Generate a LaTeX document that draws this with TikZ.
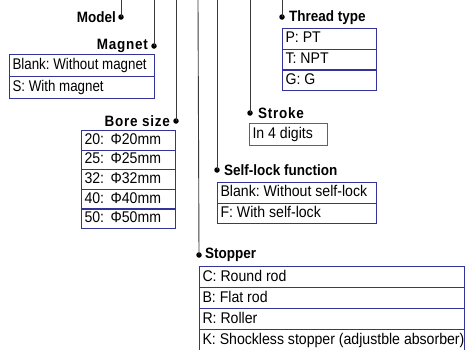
\documentclass[tikz,border=0pt]{standalone}
\usepackage{fontspec}
\setmainfont{Liberation Sans}[FakeStretch=0.91]
\newfontfamily\headfont{Liberation Sans}[FakeStretch=0.9]
\newfontfamily\wideheadfont{Liberation Sans}[FakeStretch=0.9,LetterSpace=5]
\newfontfamily\magfont{Liberation Sans}[FakeStretch=0.86]
\definecolor{boxblue}{HTML}{33339A}
\definecolor{strokeblue}{HTML}{3366C8}
\definecolor{linegray}{HTML}{3A3A3A}
\tikzset{
  x=1pt,y=-1pt,
  vline/.style={draw=linegray,line width=0.9pt},
  dotmark/.style={circle,fill=black,inner sep=0pt,minimum size=5.5pt},
  head/.style={font=\headfont\fontsize{15}{15}\selectfont\bfseries,inner sep=0pt},
  widehead/.style={font=\wideheadfont\fontsize{15}{15}\selectfont\bfseries,inner sep=0pt},
  row/.style={draw=boxblue,line width=1.1pt,anchor=north west,inner sep=0pt,
    font=\fontsize{15.5}{16}\selectfont,text height=11pt,text depth=3pt},
}
\newcommand{\rowbox}[6]{% name, x, y, width, height, text
  \node[row,minimum width=#4pt,minimum height=#5pt] (#1) at (#2,#3) {\makebox[\dimexpr#4pt-6pt\relax][l]{#6}};}
\begin{document}
\frenchspacing
\begin{tikzpicture}
\useasboundingbox (0,0) rectangle (469,349);
% tops of lines
\coordinate (tmodel) at (121,0);
\coordinate (tmag) at (154,0);
\coordinate (tbore) at (176,0);
\coordinate (tstop) at (198,0);
\coordinate (tlock) at (217,0);
\coordinate (tstroke) at (250,0);
\coordinate (tthread) at (282,0);
% dots
\node[dotmark] (dmodel) at (121,17) {};
\node[dotmark] (dmag) at (154,46) {};
\node[dotmark] (dbore) at (176,121) {};
\node[dotmark] (dstop) at (199,255) {};
\node[dotmark] (dlock) at (217,170) {};
\node[dotmark] (dstroke) at (250,113) {};
\node[dotmark] (dthread) at (282,17) {};
\draw[vline] (tmodel) -- (dmodel.center);
\draw[vline] (tmag) -- (dmag.center);
\draw[vline] (tbore) -- (dbore.center);
\draw[vline] (tstop) -- (dstop.center);
\draw[vline] (tlock) -- (dlock.center);
\draw[vline] (tstroke) -- (dstroke.center);
\draw[vline] (tthread) -- (dthread.center);
% headings
\node[head,anchor=east] (hmodel) at (116,17) {Model};
\node[widehead,anchor=east] (hmag) at (148,46) {Magnet};
\node[widehead,anchor=east] (hbore) at (170,121) {Bore size};
\node[head,anchor=west] (hstop) at (205,255) {Stopper};
\node[head,anchor=west] (hlock) at (224,170) {Self-lock function};
\node[widehead,anchor=west] (hstroke) at (258,113) {Stroke};
\node[head,anchor=west] (hthread) at (289,18) {Thread type};
% magnet box
\rowbox{mag1}{9}{54}{145}{22}{\magfont Blank: Without magnet}
\rowbox{mag2}{9}{76}{145}{22}{\magfont S: With magnet}
% thread box
\rowbox{thr1}{282}{28}{94}{20.7}{P: PT}
\rowbox{thr2}{282}{48.7}{94}{20.7}{T: NPT}
\rowbox{thr3}{282}{69.4}{94}{20.7}{G: G}
% stroke box
\node[row,draw=strokeblue,minimum width=78pt,minimum height=22pt] (str1) at (249,123) {\makebox[72pt][l]{In 4 digits}};
% bore box
\rowbox{bor1}{81}{130}{94}{19.6}{20: \,Φ20mm}
\rowbox{bor2}{81}{149.6}{94}{19.6}{25: \,Φ25mm}
\rowbox{bor3}{81}{169.2}{94}{19.6}{32: \,Φ32mm}
\rowbox{bor4}{81}{188.8}{94}{19.6}{40: \,Φ40mm}
\rowbox{bor5}{81}{208.4}{94}{19.6}{50: \,Φ50mm}
% self-lock box
\rowbox{lock1}{217}{182}{159}{20.5}{Blank: Without self-lock}
\rowbox{lock2}{217}{202.5}{159}{20.5}{F: With self-lock}
% stopper box
\rowbox{stp1}{199}{266}{265}{21}{C: Round rod}
\rowbox{stp2}{199}{287}{265}{21}{B: Flat rod}
\rowbox{stp3}{199}{308}{265}{21}{R: Roller}
\rowbox{stp4}{199}{329}{265}{21}{K: Shockless stopper (adjustble absorber)}
\end{tikzpicture}
\end{document}
